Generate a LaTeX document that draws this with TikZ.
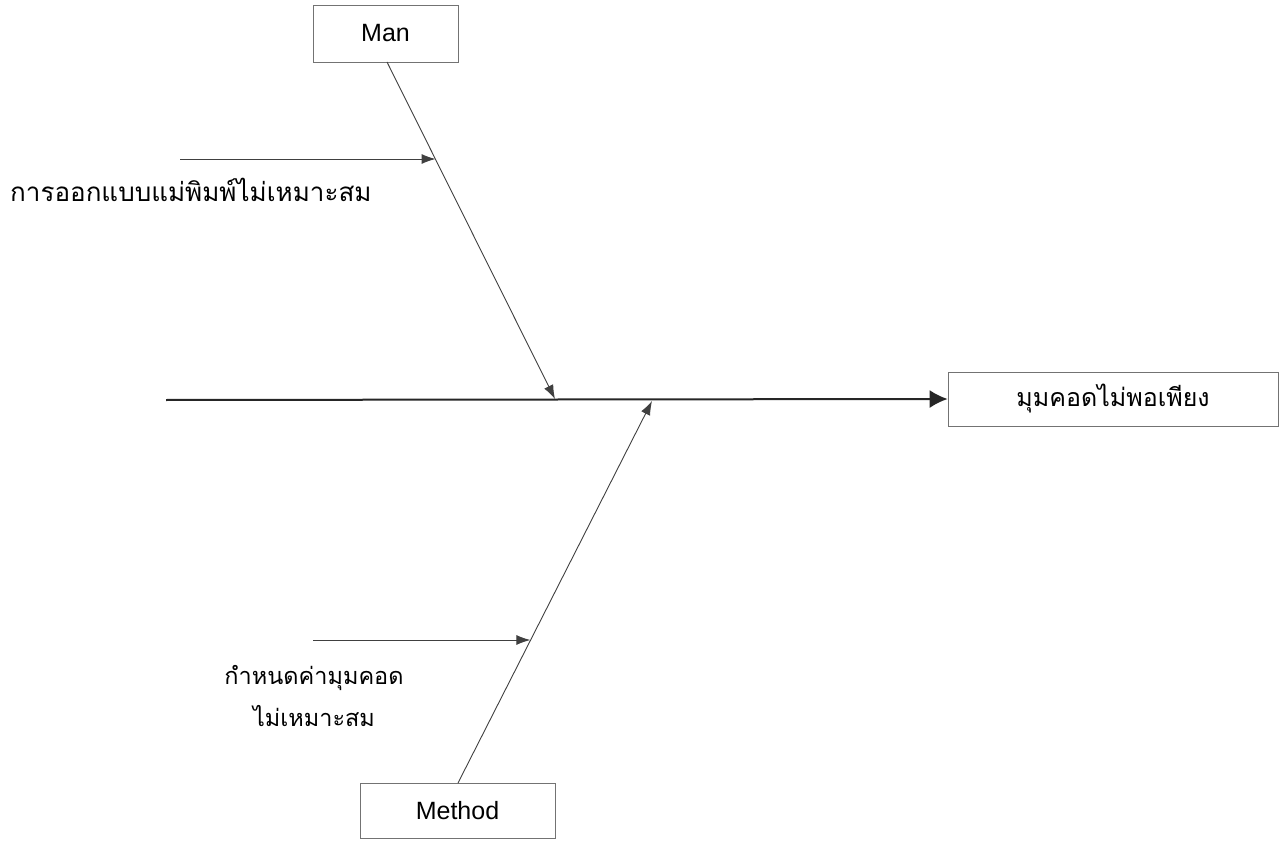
\documentclass[tikz,border=0pt]{standalone}
\usepackage{fontspec}
\setmainfont{Liberation Sans}
\newfontfamily\thaifont[Script=Thai]{Loma}
\usetikzlibrary{arrows.meta,calc}
\begin{document}
\begin{tikzpicture}[x=1pt,y=-1pt,
  box/.style={draw=black!55,line width=0.7pt,fill=white,inner sep=0pt,font=\fontsize{25}{29}\selectfont},
  bone/.style={draw=black!75,line width=0.9pt},
  spine/.style={draw=black!85,line width=2pt},
  tip/.style={-{Latex[length=14pt,width=10pt]}},
  bigtip/.style={-{Latex[length=18pt,width=18pt]}},
  label/.style={font=\thaifont\fontsize{26}{42}\selectfont,inner sep=0pt}]
\useasboundingbox (0,0) rectangle (1280,845);
% effect box and causes
\node[box,minimum width=330pt,minimum height=54pt] (effect) at (1113,399) {\thaifont\fontsize{25}{29}\selectfont มุมคอดไม่พอเพียง};
\node[box,minimum width=145pt,minimum height=57pt] (man) at (385.5,33.5) {Man};
\node[box,minimum width=195pt,minimum height=55pt] (method) at (457.5,810.5) {Method};
% spine
\coordinate (tail) at (166,400);
\coordinate (manjoin) at (555,399);
\coordinate (methodjoin) at (652,401);
\draw[spine,bigtip] (tail) -- (effect.west);
% main bones
\coordinate (manstart) at (387,62);
\coordinate (methodstart) at (458,783);
\draw[bone,tip] (manstart) -- (manjoin);
\draw[bone,tip] (methodstart) -- (methodjoin);
% sub-causes
\coordinate (s1) at (180,159);
\coordinate (e1) at ($(manstart)!0.289!(manjoin)$);
\coordinate (s2) at (313,640);
\coordinate (e2) at ($(methodstart)!0.373!(methodjoin)$);
\draw[bone,tip] (s1) -- (s1 -| e1);
\draw[bone,tip] (s2) -- (s2 -| e2);
\node[label,anchor=west] (t1) at (10,190) {การออกแบบแม่พิมพ์ไม่เหมาะสม};
\node[label,font=\thaifont\fontsize{23.5}{42}\selectfont,align=center] (t2) at (314,696) {กำหนดค่ามุมคอด\\ไม่เหมาะสม};
\end{tikzpicture}
\end{document}
